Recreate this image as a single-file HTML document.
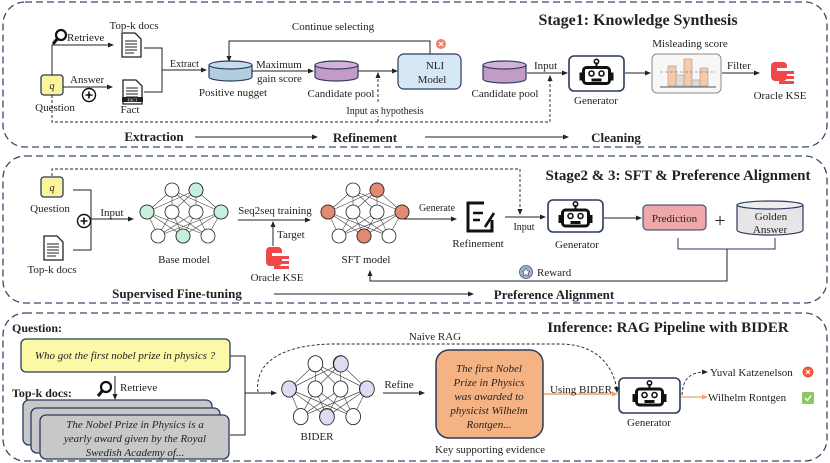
<!DOCTYPE html>
<html><head><meta charset="utf-8"><style>
html,body{margin:0;padding:0;background:#fff;width:830px;height:463px;overflow:hidden}
text{font-family:"Liberation Serif",serif;fill:#222}
.b{font-weight:bold}
.i{font-style:italic}
</style></head><body>
<svg width="830" height="463" viewBox="0 0 830 463" xmlns="http://www.w3.org/2000/svg">
<defs>
<marker id="ar" markerWidth="6" markerHeight="6" refX="5" refY="3" orient="auto" markerUnits="userSpaceOnUse"><path d="M0,0.5 L6,3 L0,5.5z" fill="#222"/></marker>
<marker id="aro" markerWidth="6" markerHeight="6" refX="5" refY="3" orient="auto" markerUnits="userSpaceOnUse"><path d="M0,0.5 L6,3 L0,5.5z" fill="#f4a070"/></marker>
<g id="robot">
<rect x="-13" y="-6" width="26" height="16" rx="3" fill="none" stroke="#111" stroke-width="3"/>
<line x1="0" y1="-6" x2="0" y2="-11" stroke="#111" stroke-width="2"/><circle cx="0" cy="-12" r="2.2" fill="none" stroke="#111" stroke-width="1.5"/>
<circle cx="-5" cy="0" r="2.5" fill="none" stroke="#111" stroke-width="1.6"/><circle cx="5" cy="0" r="2.5" fill="none" stroke="#111" stroke-width="1.6"/>
<rect x="-5" y="5" width="10" height="3" fill="#111"/>
<rect x="-17" y="-1" width="3" height="8" fill="#111"/><rect x="14" y="-1" width="3" height="8" fill="#111"/>
</g>
<g id="net" stroke="#444" stroke-width="0.6">
<g fill="none">
<path d="M-12,-22L-37,0M-12,-22L-12,0M-12,-22L12,0M-12,-22L37,0M12,-22L-37,0M12,-22L-12,0M12,-22L12,0M12,-22L37,0"/>
<path d="M-37,0L-26,24M-37,0L-1,24M-37,0L24,24M-12,0L-26,24M-12,0L-1,24M-12,0L24,24M12,0L-26,24M12,0L-1,24M12,0L24,24M37,0L-26,24M37,0L-1,24M37,0L24,24"/>
</g>
<g fill="#fff" stroke="#222" stroke-width="0.8">
<circle cx="-12" cy="-22" r="7"/><circle cx="12" cy="-22" r="7"/>
<circle cx="-37" cy="0" r="7"/><circle cx="-12" cy="0" r="7"/><circle cx="12" cy="0" r="7"/><circle cx="37" cy="0" r="7"/>
<circle cx="-26" cy="24" r="7"/><circle cx="-1" cy="24" r="7"/><circle cx="24" cy="24" r="7"/>
</g>
</g>
<g id="doc">
<path d="M0,0 H13 L19,6 V24 H0Z" fill="#fff" stroke="#222" stroke-width="1.3"/>
<path d="M3,8H15M3,11H15M3,14H15M3,17H15M3,20H12" stroke="#222" stroke-width="1"/>
</g>
<g id="kse">
<rect x="0" y="0" width="16" height="19" rx="4" fill="#f04848"/>
<rect x="6" y="6" width="18" height="3" fill="#fff"/>
<rect x="8" y="9" width="15" height="3" fill="#f04848"/><rect x="8" y="14" width="15" height="3" fill="#f04848"/><rect x="8" y="19" width="15" height="3" fill="#f04848"/>
</g>
<g id="mag"><circle cx="3" cy="-3" r="5" fill="none" stroke="#111" stroke-width="2.2"/><line x1="0" y1="0" x2="-5" y2="6" stroke="#111" stroke-width="3"/></g>
<g id="plus"><circle r="6.5" fill="#fff" stroke="#111" stroke-width="1.4"/><path d="M-3.5,0H3.5M0,-3.5V3.5" stroke="#111" stroke-width="1.6"/></g>
</defs>

<!-- PANELS -->
<rect x="3" y="2" width="824" height="145" rx="22" fill="none" stroke="#3b4a6b" stroke-width="1.3" stroke-dasharray="7,4"/>
<rect x="3" y="156" width="824" height="147" rx="22" fill="none" stroke="#3b4a6b" stroke-width="1.3" stroke-dasharray="7,4"/>
<rect x="3" y="313" width="824" height="148" rx="22" fill="none" stroke="#3b4a6b" stroke-width="1.3" stroke-dasharray="7,4"/>

<!-- ===== PANEL 1 ===== -->
<text x="638" y="25" font-size="16" class="b" text-anchor="middle">Stage1: Knowledge Synthesis</text>
<rect x="41" y="75" width="22" height="20" rx="3" fill="#fbf49a" stroke="#2b3a5e" stroke-width="1.3"/>
<text x="52" y="89" font-size="10" class="i" text-anchor="middle">q</text>
<text x="55" y="111" font-size="11" text-anchor="middle">Question</text>
<use href="#mag" x="58" y="38"/>
<text x="67" y="41" font-size="11">Retrieve</text>
<path d="M52,75 V45 H113" fill="none" stroke="#222" stroke-width="1" marker-end="url(#ar)"/>
<text x="134" y="29" font-size="11" text-anchor="middle">Top-k docs</text>
<use href="#doc" x="122" y="33"/>
<text x="70" y="83" font-size="11">Answer</text>
<path d="M63,87 H112" fill="none" stroke="#222" stroke-width="1" marker-end="url(#ar)"/>
<use href="#plus" x="89" y="95"/>
<use href="#doc" x="123" y="80"/>
<rect x="122" y="97" width="21" height="5" fill="#222"/><text x="132.5" y="101.5" font-size="4" text-anchor="middle" style="fill:#fff">FACT</text>
<text x="130" y="113" font-size="11" text-anchor="middle">Fact</text>
<path d="M144,48 H162 V92 H144 M162,70 H206" fill="none" stroke="#222" stroke-width="1" marker-end="url(#ar)"/>
<text x="170" y="67" font-size="10">Extract</text>
<path d="M209,65 V77 A21.5,4 0 0 0 252,77 V65" fill="#b3cde0" stroke="#2b3a5e" stroke-width="1.2"/>
<ellipse cx="230.5" cy="65" rx="21.5" ry="4" fill="#c7dbe9" stroke="#2b3a5e" stroke-width="1.2"/>
<text x="233" y="96" font-size="11" text-anchor="middle">Positive nugget</text>
<path d="M252,71 H313" fill="none" stroke="#222" stroke-width="1" marker-end="url(#ar)"/>
<text x="256" y="68" font-size="11">Maximum</text>
<text x="257" y="82" font-size="11">gain score</text>
<path d="M315,65 V77 A21.5,4 0 0 0 358,77 V65" fill="#c49bc6" stroke="#2b3a5e" stroke-width="1.2"/>
<ellipse cx="336.5" cy="65" rx="21.5" ry="4" fill="#d4b2d6" stroke="#2b3a5e" stroke-width="1.2"/>
<text x="341" y="97" font-size="11" text-anchor="middle">Candidate pool</text>
<path d="M358,71 H397" fill="none" stroke="#222" stroke-width="1" marker-end="url(#ar)"/>
<rect x="398" y="54" width="63" height="35" rx="6" fill="#d6e8f5" stroke="#2b3a5e" stroke-width="1.2"/>
<text x="435" y="69" font-size="11" text-anchor="middle">NLI</text>
<text x="432" y="83" font-size="11" text-anchor="middle">Model</text>
<path d="M430,54 V41 H229 V61" fill="none" stroke="#222" stroke-width="1" marker-end="url(#ar)"/>
<text x="333" y="30" font-size="11" text-anchor="middle">Continue selecting</text>
<circle cx="441" cy="44" r="5" fill="#f07f6c"/><path d="M439,42L443,46M443,42L439,46" stroke="#fff" stroke-width="1.2"/>
<path d="M52,95 V122 H550 V76" fill="none" stroke="#222" stroke-width="0.9" stroke-dasharray="3,2" marker-end="url(#ar)"/>
<path d="M378,122 V73" fill="none" stroke="#222" stroke-width="0.9" stroke-dasharray="3,2" marker-end="url(#ar)"/>
<rect x="345" y="104" width="80" height="12" fill="#fff"/>
<text x="385" y="114" font-size="10" text-anchor="middle">Input as hypothesis</text>
<path d="M483,65 V79 A21.5,4 0 0 0 526,79 V65" fill="#c49bc6" stroke="#2b3a5e" stroke-width="1.2"/>
<ellipse cx="504.5" cy="65" rx="21.5" ry="4" fill="#d4b2d6" stroke="#2b3a5e" stroke-width="1.2"/>
<text x="505" y="97" font-size="11" text-anchor="middle">Candidate pool</text>
<path d="M527,73 H567" fill="none" stroke="#222" stroke-width="1" marker-end="url(#ar)"/>
<text x="534" y="69" font-size="11">Input</text>
<rect x="569" y="56" width="55" height="35" rx="5" fill="#fff" stroke="#2b3a5e" stroke-width="1.6"/>
<use href="#robot" x="596.5" y="73.5"/>
<text x="596" y="104" font-size="11" text-anchor="middle">Generator</text>
<path d="M625,73 H650" fill="none" stroke="#222" stroke-width="1" marker-end="url(#ar)"/>
<rect x="652" y="54" width="69" height="39" rx="5" fill="#f7f7f7" stroke="#888" stroke-width="1"/>
<rect x="668" y="66" width="8" height="20" fill="#f8c9a6" stroke="#999" stroke-width="0.6"/>
<rect x="676" y="75" width="8" height="11" fill="#ddd" stroke="#999" stroke-width="0.6"/>
<rect x="684" y="59" width="8" height="27" fill="#f8c9a6" stroke="#999" stroke-width="0.6"/>
<rect x="692" y="80" width="8" height="6" fill="#ddd" stroke="#999" stroke-width="0.6"/>
<rect x="700" y="68" width="8" height="18" fill="#f8c9a6" stroke="#999" stroke-width="0.6"/>
<line x1="660" y1="72" x2="716" y2="72" stroke="#666" stroke-width="0.6" stroke-dasharray="3,2"/>
<line x1="660" y1="87" x2="716" y2="87" stroke="#555" stroke-width="1"/>
<text x="690" y="47" font-size="11" text-anchor="middle">Misleading score</text>
<path d="M722,73 H759" fill="none" stroke="#222" stroke-width="1" marker-end="url(#ar)"/>
<text x="727" y="69" font-size="11">Filter</text>
<use href="#kse" x="771" y="62"/>
<text x="780" y="99" font-size="11" text-anchor="middle">Oracle KSE</text>
<text x="154" y="141" font-size="13" class="b" text-anchor="middle">Extraction</text>
<path d="M195,137 H317" fill="none" stroke="#222" stroke-width="1" marker-end="url(#ar)"/>
<text x="365" y="142" font-size="13" class="b" text-anchor="middle">Refinement</text>
<path d="M425,137 H568" fill="none" stroke="#222" stroke-width="1" marker-end="url(#ar)"/>
<text x="616" y="142" font-size="13" class="b" text-anchor="middle">Cleaning</text>

<!-- ===== PANEL 2 ===== -->
<text x="678" y="180" font-size="15" class="b" text-anchor="middle">Stage2 &amp; 3: SFT &amp; Preference Alignment</text>
<path d="M52,176 V169 H520 V214" fill="none" stroke="#222" stroke-width="0.9" stroke-dasharray="3,2" marker-end="url(#ar)"/>
<rect x="41" y="177" width="22" height="20" rx="3" fill="#fbf49a" stroke="#2b3a5e" stroke-width="1.3"/>
<text x="52" y="191" font-size="10" class="i" text-anchor="middle">q</text>
<text x="50" y="212" font-size="11" text-anchor="middle">Question</text>
<use href="#doc" x="44" y="236"/>
<text x="52" y="273" font-size="11" text-anchor="middle">Top-k docs</text>
<path d="M73,190 H91 V250 H73 M91,219 H133" fill="none" stroke="#222" stroke-width="1" marker-end="url(#ar)"/>
<use href="#plus" x="84" y="221"/>
<text x="112" y="216" font-size="11" text-anchor="middle">Input</text>
<use href="#net" x="184" y="212"/>
<g stroke="#222" stroke-width="0.8" fill="#c5f0dc"><circle cx="196" cy="190" r="7"/><circle cx="147" cy="212" r="7"/><circle cx="221" cy="212" r="7"/><circle cx="183" cy="236" r="7"/></g>
<text x="184" y="263" font-size="11" text-anchor="middle">Base model</text>
<path d="M238,220 H310" fill="none" stroke="#222" stroke-width="1" marker-end="url(#ar)"/>
<text x="275" y="214" font-size="11" text-anchor="middle">Seq2seq training</text>
<path d="M273,246 V222" fill="none" stroke="#222" stroke-width="1" marker-end="url(#ar)"/>
<text x="277" y="238" font-size="11">Target</text>
<use href="#kse" x="266" y="247"/>
<text x="277" y="281" font-size="11" text-anchor="middle">Oracle KSE</text>
<use href="#net" x="365" y="212"/>
<g stroke="#222" stroke-width="0.8" fill="#e48a74"><circle cx="377" cy="190" r="7"/><circle cx="328" cy="212" r="7"/><circle cx="402" cy="212" r="7"/><circle cx="364" cy="236" r="7"/></g>
<text x="366" y="263" font-size="11" text-anchor="middle">SFT model</text>
<path d="M404,219 H456" fill="none" stroke="#222" stroke-width="1" marker-end="url(#ar)"/>
<text x="437" y="211" font-size="10" text-anchor="middle">Generate</text>
<path d="M484,203 H468 V231 H492 V220" fill="none" stroke="#111" stroke-width="3"/>
<path d="M473,213 H483 M473,220 H480 M485,227 L494,213" stroke="#111" stroke-width="2.6" fill="none"/>
<text x="478" y="247" font-size="11" text-anchor="middle">Refinement</text>
<path d="M505,217 H545" fill="none" stroke="#222" stroke-width="1" marker-end="url(#ar)"/>
<text x="524" y="230" font-size="10" text-anchor="middle">Input</text>
<rect x="548" y="200" width="55" height="32" rx="5" fill="#fff" stroke="#2b3a5e" stroke-width="1.6"/>
<use href="#robot" x="575.5" y="216"/>
<text x="577" y="248" font-size="11" text-anchor="middle">Generator</text>
<path d="M604,218 H641" fill="none" stroke="#222" stroke-width="1" marker-end="url(#ar)"/>
<rect x="643" y="205" width="63" height="25" rx="4" fill="#eea8a8" stroke="#2b3a5e" stroke-width="1"/>
<text x="674.5" y="222" font-size="11" text-anchor="middle">Prediction</text>
<text x="720" y="227" font-size="20" text-anchor="middle">+</text>
<path d="M737,205 V230 A33,5 0 0 0 803,230 V205" fill="#e6e6e6" stroke="#2b3a5e" stroke-width="1.2"/>
<ellipse cx="770" cy="205" rx="33" ry="4" fill="#eee" stroke="#2b3a5e" stroke-width="1.2"/>
<text x="771" y="220" font-size="11" text-anchor="middle">Golden</text>
<text x="770" y="233" font-size="11" text-anchor="middle">Answer</text>
<path d="M678,238 V249 H775 V238" fill="none" stroke="#2b3a5e" stroke-width="1"/>
<path d="M727,249 V281 H370 V271" fill="none" stroke="#222" stroke-width="1" marker-end="url(#ar)"/>
<circle cx="526" cy="272" r="6.5" fill="#9ab0c8" stroke="#556" stroke-width="0.8"/>
<path d="M526,268 L527.5,271 L530,271.3 L528,273 L528.7,276 L526,274.4 L523.3,276 L524,273 L522,271.3 L524.5,271Z" fill="#fff" stroke="#333" stroke-width="0.5"/>
<text x="537" y="276" font-size="11">Reward</text>
<text x="177" y="298" font-size="13" class="b" text-anchor="middle">Supervised Fine-tuning</text>
<path d="M274,294 H473" fill="none" stroke="#222" stroke-width="1" marker-end="url(#ar)"/>
<text x="554" y="299" font-size="13" class="b" text-anchor="middle">Preference Alignment</text>

<!-- ===== PANEL 3 ===== -->
<text x="668" y="332" font-size="15" class="b" text-anchor="middle">Inference: RAG Pipeline with BIDER</text>
<text x="12" y="332" font-size="12" class="b">Question:</text>
<rect x="21" y="339" width="209" height="33" rx="5" fill="#fbf8a6" stroke="#2b3a5e" stroke-width="1.3"/>
<text x="125" y="359" font-size="11" class="i" text-anchor="middle">Who got the first nobel prize in physics ?</text>
<path d="M230,356 H245 V435 H230 M245,393 H276" fill="none" stroke="#222" stroke-width="1" marker-end="url(#ar)"/>
<text x="12" y="397" font-size="12" class="b">Top-k docs:</text>
<use href="#mag" x="103" y="390"/>
<path d="M115,376 V399" fill="none" stroke="#222" stroke-width="1" marker-end="url(#ar)"/>
<text x="120" y="391" font-size="11">Retrieve</text>
<rect x="23" y="400" width="189" height="45" rx="6" fill="#c8c8c8" stroke="#2b3a5e" stroke-width="1.3"/>
<rect x="31" y="408" width="189" height="45" rx="6" fill="#c8c8c8" stroke="#2b3a5e" stroke-width="1.3"/>
<rect x="40" y="415" width="189" height="44" rx="6" fill="#c8c8c8" stroke="#2b3a5e" stroke-width="1.3"/>
<text x="135" y="428" font-size="11" class="i" text-anchor="middle">The Nobel Prize in Physics is a</text>
<text x="135" y="442" font-size="11" class="i" text-anchor="middle">yearly award given by the Royal</text>
<text x="135" y="456" font-size="11" class="i" text-anchor="middle">Swedish Academy of...</text>
<path d="M258,392 C255,370 270,346 330,344 L560,344 C600,344 615,370 617,392" fill="none" stroke="#222" stroke-width="0.9" stroke-dasharray="3,2" marker-end="url(#ar)"/>
<rect x="398" y="330" width="75" height="12" fill="#fff"/>
<text x="435" y="340" font-size="11" text-anchor="middle">Naive RAG</text>
<g transform="translate(328,389) scale(1.05,1.15)"><use href="#net"/></g>
<g stroke="#222" stroke-width="0.8" fill="#e2d9f3"><ellipse cx="341" cy="364" rx="7.3" ry="8"/><ellipse cx="289" cy="389" rx="7.3" ry="8"/><ellipse cx="367" cy="389" rx="7.3" ry="8"/><ellipse cx="327" cy="417" rx="7.3" ry="8"/></g>
<text x="317" y="440" font-size="11" text-anchor="middle">BIDER</text>
<path d="M383,393 H424" fill="none" stroke="#222" stroke-width="1" marker-end="url(#ar)"/>
<text x="399" y="388" font-size="11" text-anchor="middle">Refine</text>
<rect x="436" y="350" width="107" height="88" rx="13" fill="#f5b384" stroke="#2b3a5e" stroke-width="1.5"/>
<g font-size="11">
<text x="489" y="372" text-anchor="middle" class="i">The first Nobel</text>
<text x="489" y="386" text-anchor="middle" class="i">Prize in Physics</text>
<text x="489" y="400" text-anchor="middle" class="i">was awarded to</text>
<text x="489" y="414" text-anchor="middle" class="i">physicist Wilhelm</text>
<text x="489" y="428" text-anchor="middle" class="i">Rontgen...</text>
</g>
<text x="490" y="453" font-size="11" text-anchor="middle">Key supporting evidence</text>
<path d="M544,394 H617" fill="none" stroke="#f4a070" stroke-width="1.4" marker-end="url(#aro)"/>
<text x="581" y="393" font-size="11" text-anchor="middle">Using BIDER</text>
<rect x="619" y="378" width="61" height="35" rx="5" fill="#fff" stroke="#2b3a5e" stroke-width="1.6"/>
<use href="#robot" x="649.5" y="395"/>
<text x="649" y="426" font-size="11" text-anchor="middle">Generator</text>
<path d="M682,395 C683,378 690,372 707,372" fill="none" stroke="#222" stroke-width="0.9" stroke-dasharray="3,2" marker-end="url(#ar)"/>
<text x="710" y="376" font-size="11">Yuval Katzenelson</text>
<circle cx="808" cy="372" r="5.5" fill="#f05a3c"/><path d="M806,370L810,374M810,370L806,374" stroke="#fff" stroke-width="1.2"/>
<path d="M681,397 H707" fill="none" stroke="#f4a070" stroke-width="1.3" marker-end="url(#aro)"/>
<text x="708" y="401" font-size="11">Wilhelm Rontgen</text>
<rect x="802" y="392" width="12" height="12" rx="1.5" fill="#8bc860"/><path d="M805,398 L807.5,400.5 L811,395.5" stroke="#fff" stroke-width="1.3" fill="none"/>
</svg>
</body></html>
